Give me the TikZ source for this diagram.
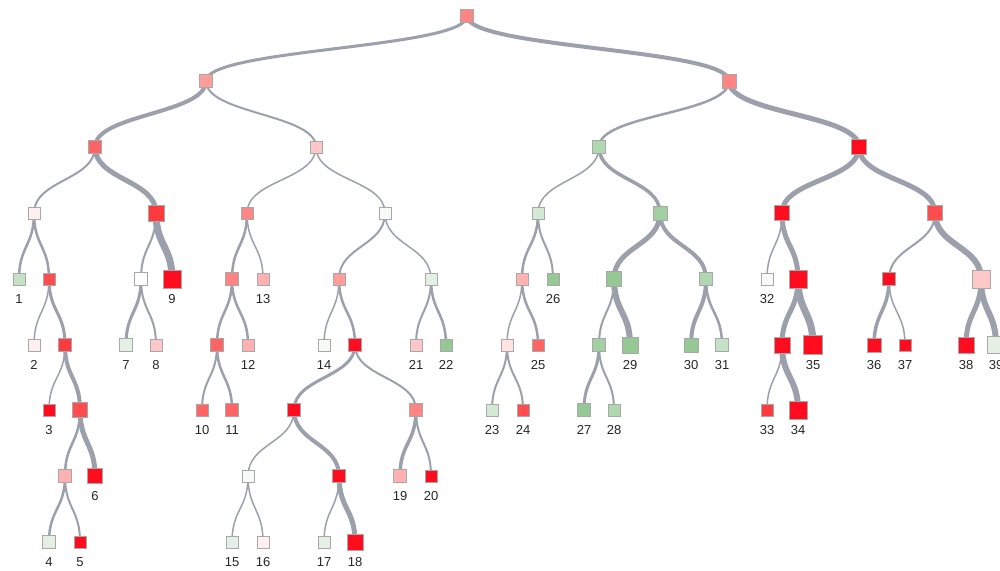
\documentclass[tikz,border=0pt]{standalone}
\usepackage{fontspec}
\setmainfont{Liberation Sans}
\usetikzlibrary{calc}
\pgfdeclarelayer{bg}
\pgfsetlayers{bg,main}
\definecolor{edgecol}{HTML}{9BA0AC}
\definecolor{bordcol}{HTML}{A8A8A8}
\definecolor{r0}{HTML}{FF0C1E}
\definecolor{r1}{HTML}{FF3A3E}
\definecolor{r2}{HTML}{FF4C4E}
\definecolor{r3}{HTML}{FF6464}
\definecolor{r4}{HTML}{FF8484}
\definecolor{r5}{HTML}{FF9C9C}
\definecolor{r6}{HTML}{FFB0B0}
\definecolor{r7}{HTML}{FFC8C8}
\definecolor{r8}{HTML}{FFE2E2}
\definecolor{r9}{HTML}{FFF0F0}
\definecolor{w0}{HTML}{F8FAF8}
\definecolor{w1}{HTML}{FFFFFF}
\definecolor{g8}{HTML}{E4F0E4}
\definecolor{g7}{HTML}{D4EAD4}
\definecolor{g6}{HTML}{C6E2C6}
\definecolor{g5}{HTML}{B0D8B0}
\definecolor{g4}{HTML}{A2D0A2}
\definecolor{g3}{HTML}{96C896}
\tikzset{
  sq/.style={draw=bordcol, line width=0.8pt, inner sep=0pt, minimum size=#1, rectangle},
  edge/.style={draw=edgecol, line cap=round},
  lbl/.style={font=\fontsize{13}{15}\selectfont, inner sep=0pt, text=black!85}
}
\newcommand{\tn}[5]{\node[sq=#4pt, fill=#5] (#1) at (#2,#3) {};}
\newcommand{\lk}[3]{\begin{pgfonlayer}{bg}\path ($(#1)!0.5!(#2)$) coordinate (m); \draw[edge, line width=#3pt] (#1.center) .. controls (#1.center |- m) and (#2.center |- m) .. (#2.center);\end{pgfonlayer}}
\newcommand{\tl}[2]{\node[lbl] (t#1) at ([yshift=-20pt]#1.center) {#2};}
\begin{document}
\begin{tikzpicture}[x=1pt,y=-1pt]
\useasboundingbox (0,0) rectangle (1000,570);
\begin{pgfonlayer}{bg}
\fill[white] (0,0) rectangle (1000,570);
\end{pgfonlayer}
% level 0-3
\tn{r}{467}{16}{13}{r4}
\tn{a}{206}{81}{13}{r5}
\tn{b}{729}{81}{14}{r4}
\tn{ll}{95}{147}{13}{r3}
\tn{lr}{316}{147}{12}{r7}
\tn{rl}{599}{147}{13}{g5}
\tn{rr}{859}{147}{15}{r0}
\tn{n3a}{34}{213}{12}{r9}
\tn{n3b}{156}{213}{16}{r1}
\tn{n3c}{247}{213}{12}{r4}
\tn{n3d}{385}{213}{12}{w0}
\tn{n3e}{538}{213}{12}{g7}
\tn{n3f}{660}{213}{14}{g4}
\tn{n3g}{782}{213}{15}{r0}
\tn{n3h}{935}{213}{15}{r2}
% level 4
\tn{l1}{19}{279}{12}{g6}
\tn{n4a}{49}{279}{12}{r2}
\tn{n4b}{141}{279}{13}{w1}
\tn{l9}{172}{279}{18}{r0}
\tn{n4c}{232}{279}{13}{r4}
\tn{l13}{263}{279}{12}{r6}
\tn{n4d}{339}{279}{12}{r5}
\tn{n4e}{431}{279}{12}{g8}
\tn{n4f}{522}{279}{12}{r6}
\tn{l26}{553}{279}{12}{g3}
\tn{n4g}{614}{279}{15}{g3}
\tn{n4h}{706}{279}{13}{g5}
\tn{l32}{767}{279}{12}{w0}
\tn{n4i}{798}{279}{18}{r0}
\tn{n4j}{889}{279}{13}{r0}
\tn{n4k}{981}{279}{18}{r7}
% level 5
\tn{l2}{34}{345}{12}{r9}
\tn{n5a}{65}{345}{13}{r1}
\tn{l7}{126}{345}{13}{g8}
\tn{l8}{156}{345}{12}{r7}
\tn{n5b}{217}{345}{13}{r3}
\tn{l12}{248}{345}{12}{r6}
\tn{l14}{324}{345}{12}{w0}
\tn{n5c}{355}{345}{13}{r0}
\tn{l21}{416}{345}{12}{r7}
\tn{l22}{446}{345}{12}{g3}
\tn{n5d}{507}{345}{12}{r8}
\tn{l25}{538}{345}{12}{r3}
\tn{n5e}{599}{345}{13}{g4}
\tn{l29}{630}{345}{16}{g3}
\tn{l30}{691}{345}{14}{g3}
\tn{l31}{722}{345}{13}{g6}
\tn{n5f}{782}{345}{16}{r0}
\tn{l35}{813}{345}{19}{r0}
\tn{l36}{874}{345}{14}{r0}
\tn{l37}{905}{345}{12}{r0}
\tn{l38}{966}{345}{16}{r0}
\tn{l39}{996}{345}{17}{g8}
% level 6
\tn{l3}{49}{410}{12}{r0}
\tn{n6a}{80}{410}{15}{r2}
\tn{l10}{202}{410}{12}{r3}
\tn{l11}{232}{410}{13}{r3}
\tn{n6b}{294}{410}{13}{r0}
\tn{n6c}{416}{410}{13}{r4}
\tn{l23}{492}{410}{12}{g7}
\tn{l24}{523}{410}{12}{r2}
\tn{l27}{584}{410}{13}{g3}
\tn{l28}{614}{410}{12}{g5}
\tn{l33}{767}{410}{12}{r1}
\tn{l34}{798}{410}{18}{r0}
% level 7
\tn{n7a}{65}{476}{13}{r6}
\tn{l6}{95}{476}{15}{r0}
\tn{n7b}{248}{476}{12}{w0}
\tn{n7c}{339}{476}{13}{r0}
\tn{l19}{400}{476}{13}{r6}
\tn{l20}{431}{476}{12}{r0}
% level 8
\tn{l4}{49}{542}{13}{g8}
\tn{l5}{80}{542}{12}{r0}
\tn{l15}{232}{542}{12}{g8}
\tn{l16}{263}{542}{12}{r9}
\tn{l17}{324}{542}{12}{g8}
\tn{l18}{355}{542}{16}{r0}
% edges
\lk{r}{a}{3}\lk{r}{b}{4}
\lk{a}{ll}{4}\lk{a}{lr}{2}
\lk{b}{rl}{2.5}\lk{b}{rr}{5}
\lk{ll}{n3a}{2}\lk{ll}{n3b}{5}
\lk{lr}{n3c}{1.5}\lk{lr}{n3d}{1.5}
\lk{rl}{n3e}{1.5}\lk{rl}{n3f}{3.5}
\lk{rr}{n3g}{5}\lk{rr}{n3h}{5}
\lk{n3a}{l1}{2.5}\lk{n3a}{n4a}{2.5}
\lk{n4a}{l2}{1.5}\lk{n4a}{n5a}{3}
\lk{n5a}{l3}{1.5}\lk{n5a}{n6a}{4}
\lk{n6a}{n7a}{2.5}\lk{n6a}{l6}{5}
\lk{n7a}{l4}{2.5}\lk{n7a}{l5}{2}
\lk{n3b}{n4b}{2}\lk{n3b}{l9}{7}
\lk{n4b}{l7}{3}\lk{n4b}{l8}{2}
\lk{n3c}{n4c}{2.5}\lk{n3c}{l13}{1.5}
\lk{n4c}{n5b}{2.5}\lk{n4c}{l12}{2.5}
\lk{n5b}{l10}{2}\lk{n5b}{l11}{2.5}
\lk{n3d}{n4d}{2}\lk{n3d}{n4e}{1.5}
\lk{n4d}{l14}{1.5}\lk{n4d}{n5c}{2.5}
\lk{n5c}{n6b}{3}\lk{n5c}{n6c}{2}
\lk{n6b}{n7b}{1.5}\lk{n6b}{n7c}{4}
\lk{n7b}{l15}{1.5}\lk{n7b}{l16}{1.5}
\lk{n7c}{l17}{1.5}\lk{n7c}{l18}{5}
\lk{n6c}{l19}{3.5}\lk{n6c}{l20}{2}
\lk{n4e}{l21}{2}\lk{n4e}{l22}{2.5}
\lk{n3e}{n4f}{2.5}\lk{n3e}{l26}{2}
\lk{n4f}{n5d}{1.5}\lk{n4f}{l25}{2.5}
\lk{n5d}{l23}{2}\lk{n5d}{l24}{2}
\lk{n3f}{n4g}{5}\lk{n3f}{n4h}{4}
\lk{n4g}{n5e}{2}\lk{n4g}{l29}{6}
\lk{n5e}{l27}{3}\lk{n5e}{l28}{2}
\lk{n4h}{l30}{4}\lk{n4h}{l31}{2.5}
\lk{n3g}{l32}{1.5}\lk{n3g}{n4i}{5}
\lk{n4i}{n5f}{5}\lk{n4i}{l35}{7}
\lk{n5f}{l33}{1.5}\lk{n5f}{l34}{6}
\lk{n3h}{n4j}{2}\lk{n3h}{n4k}{6}
\lk{n4j}{l36}{3.5}\lk{n4j}{l37}{1.5}
\lk{n4k}{l38}{5}\lk{n4k}{l39}{6}
% labels
\tl{l1}{1}\tl{l2}{2}\tl{l3}{3}\tl{l4}{4}\tl{l5}{5}\tl{l6}{6}\tl{l7}{7}\tl{l8}{8}\tl{l9}{9}
\tl{l10}{10}\tl{l11}{11}\tl{l12}{12}\tl{l13}{13}\tl{l14}{14}\tl{l15}{15}\tl{l16}{16}\tl{l17}{17}\tl{l18}{18}\tl{l19}{19}
\tl{l20}{20}\tl{l21}{21}\tl{l22}{22}\tl{l23}{23}\tl{l24}{24}\tl{l25}{25}\tl{l26}{26}\tl{l27}{27}\tl{l28}{28}\tl{l29}{29}
\tl{l30}{30}\tl{l31}{31}\tl{l32}{32}\tl{l33}{33}\tl{l34}{34}\tl{l35}{35}\tl{l36}{36}\tl{l37}{37}\tl{l38}{38}\tl{l39}{39}
\end{tikzpicture}
\end{document}
